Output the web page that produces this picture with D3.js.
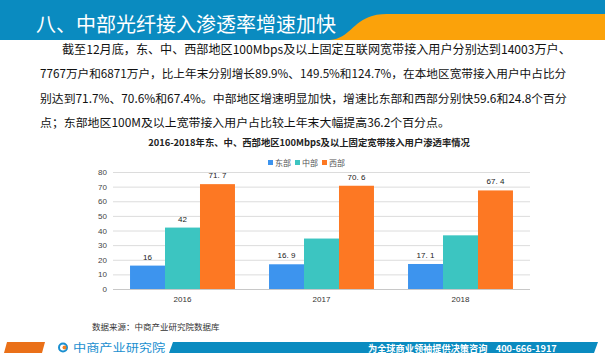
<!DOCTYPE html>
<html><head><meta charset="utf-8">
<script src="https://cdn.jsdelivr.net/npm/d3@7"></script>
<style>body{margin:0;background:#fff}svg{display:block}</style>
</head><body>
<svg id="c" width="605" height="359"></svg>
<script>
const years = ["2016", "2017", "2018"];
const seriesNames = ["东部", "中部", "西部"];
const east = [16, 16.9, 17.1];
const central = [42, 34.5, 36.7];
const west = [71.7, 70.6, 67.4];
const labelsEast = ["16", "16. 9", "17. 1"];
const labelsCentral = ["42", "", ""];
const labelsWest = ["71. 7", "70. 6", "67. 4"];
const yTicks = [0, 10, 20, 30, 40, 50, 60, 70, 80];
const colors = ["#3d94ee", "#3cc5c1", "#fd7823"];
const bodyLines = [
  "截至12月底，东、中、西部地区100Mbps及以上固定互联网宽带接入用户分别达到14003万户、",
  "7767万户和6871万户，比上年末分别增长89.9%、149.5%和124.7%，在本地区宽带接入用户中占比分",
  "别达到71.7%、70.6%和67.4%。中部地区增速明显加快，增速比东部和西部分别快59.6和24.8个百分",
  "点；东部地区100M及以上宽带接入用户占比较上年末大幅提高36.2个百分点。"
];

const svg = d3.select("#c");
const font = "'Microsoft YaHei','Noto Sans CJK SC',sans-serif";

function fit(sel, base, target){
  sel.attr("font-size", base);
  const w = sel.node().getComputedTextLength();
  if (w > 0) sel.attr("font-size", (base*target/w).toFixed(2));
  return sel;
}

// header
svg.append("rect").attr("x",0).attr("y",0).attr("width",605).attr("height",40).attr("fill","#0a8bc0");
svg.append("path").attr("d","M330,40 C350,38 352,22 372,16 C378,14 385,14 392,14 L605,14 L605,40 Z").attr("fill","#fba20a");
svg.append("text").attr("x",36).attr("y",32).attr("fill","#fff").attr("font-family",font)
  .attr("font-size",20).text("八、中部光纤接入渗透率增速加快");

// body text
const lineX = [62, 40, 40, 40], lineEnd = [571, 567, 567, 450];
bodyLines.forEach((t,i)=>{
  const s = svg.append("text").attr("x",lineX[i]).attr("y",54+i*24.3).attr("font-family",font)
    .attr("fill","#111").text(t);
  fit(s, 13, lineEnd[i]-lineX[i]);
});

// chart title
fit(svg.append("text").attr("x",309).attr("y",146).attr("text-anchor","middle").attr("font-family",font)
  .attr("font-weight","bold").attr("fill","#222")
  .text("2016-2018年东、中、西部地区100Mbps及以上固定宽带接入用户渗透率情况"), 9, 322);

// scales
const x0 = d3.scaleBand().domain(years).range([113,530]).paddingInner(0.245).paddingOuter(0.1225);
const x1 = d3.scaleBand().domain(seriesNames).range([0,x0.bandwidth()]);
const y = d3.scaleLinear().domain([0,80]).range([289,172]);

// gridlines
svg.append("g").selectAll("line").data(yTicks).join("line")
  .attr("x1",113).attr("x2",530).attr("y1",d=>y(d)+0.5).attr("y2",d=>y(d)+0.5)
  .attr("stroke",d=>d===0?"#c8c8c8":"#dcdcdc").attr("stroke-width",1);

const yAxis = svg.append("g").attr("transform","translate(111,0)")
  .call(d3.axisLeft(y).tickValues(yTicks).tickSize(0).tickPadding(4));
yAxis.select(".domain").remove();
yAxis.selectAll("text").attr("font-size",8).attr("fill","#444").attr("font-family","Arial, sans-serif");

const xAxis = svg.append("g").attr("transform","translate(0,289)")
  .call(d3.axisBottom(x0).tickSize(0).tickPadding(7));
xAxis.select(".domain").remove();
xAxis.selectAll("text").attr("font-size",8).attr("fill","#333").attr("font-family","Arial, sans-serif");

// bars
const series = [east, central, west];
const labels = [labelsEast, labelsCentral, labelsWest];
series.forEach((vals,si)=>{
  svg.append("g").selectAll("rect").data(vals).join("rect")
    .attr("x",(d,i)=>x0(years[i])+x1(seriesNames[si]))
    .attr("y",d=>y(d)).attr("width",x1.bandwidth()).attr("height",d=>y(0)-y(d))
    .attr("fill",colors[si]);
  svg.append("g").selectAll("text").data(vals).join("text")
    .attr("x",(d,i)=>x0(years[i])+x1(seriesNames[si])+x1.bandwidth()/2)
    .attr("y",d=>y(d)-6).attr("text-anchor","middle").attr("font-size",8)
    .attr("font-family","Arial, sans-serif").attr("fill","#222")
    .text((d,i)=>labels[si][i]);
});

// legend
const lg = svg.append("g");
const legX = [268, 295, 322];
seriesNames.forEach((n,i)=>{
  lg.append("rect").attr("x",legX[i]).attr("y",160).attr("width",5).attr("height",5).attr("fill",colors[i]);
  lg.append("text").attr("x",legX[i]+7).attr("y",166).attr("font-size",8).attr("font-family",font)
    .attr("fill","#555").text(n);
});

// source
svg.append("text").attr("x",92).attr("y",330).attr("font-size",8.5).attr("font-family",font)
  .attr("fill","#333").text("数据来源：中商产业研究院数据库");

// footer
svg.append("path").attr("d","M7,342 L45,342 L42,353 L4,353 Z").attr("fill","#ea7018");
svg.append("path").attr("d","M173,342 L598,342 L594,353 L169,353 Z").attr("fill","#0a8bc0");
svg.append("circle").attr("cx",63).attr("cy",347.5).attr("r",4).attr("fill","none").attr("stroke","#1a8fd0").attr("stroke-width",2);
svg.append("circle").attr("cx",64.5).attr("cy",347.5).attr("r",2).attr("fill","#f08020");
svg.append("text").attr("transform","translate(73,351.5) scale(1.2,1)").attr("font-size",11)
  .attr("font-family",font).attr("fill","#1a8fd0").text("中商产业研究院");
fit(svg.append("text").attr("x",368).attr("y",351.5).attr("font-weight","bold")
  .attr("font-family",font).attr("fill","#fff").attr("xml:space","preserve")
  .text("为全球商业领袖提供决策咨询    400-666-1917"), 10, 189);
</script>
</body></html>
